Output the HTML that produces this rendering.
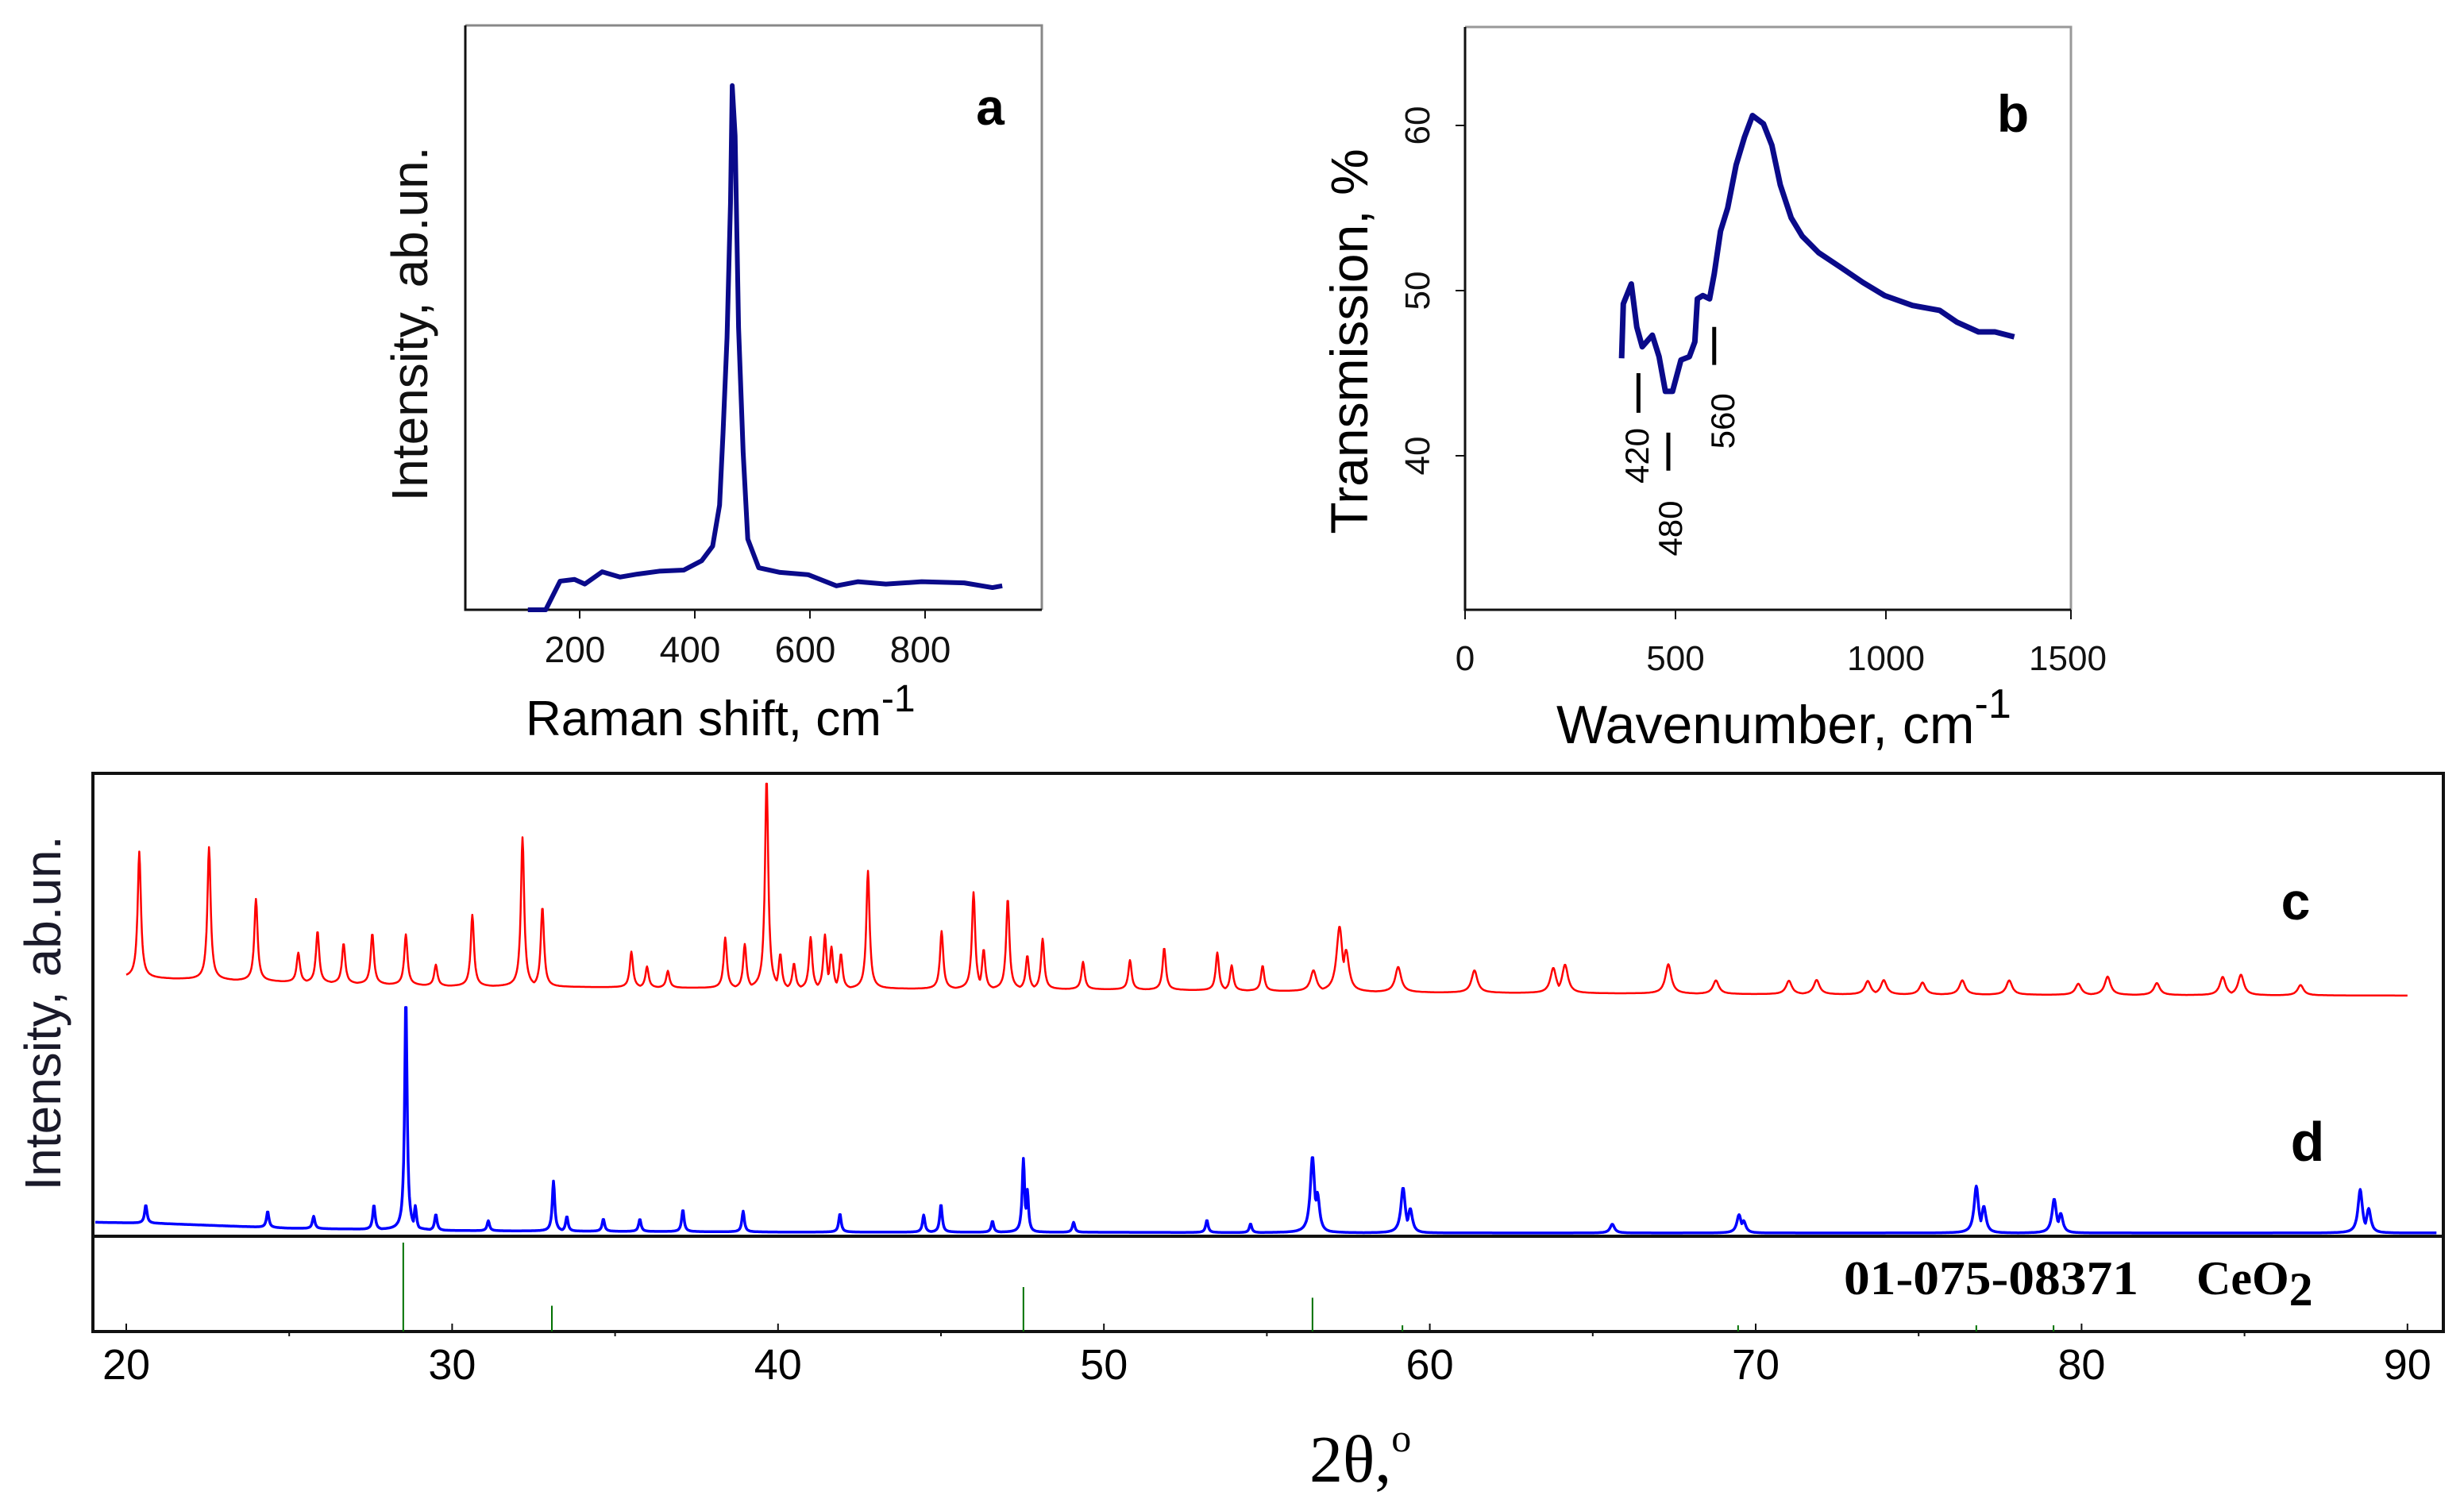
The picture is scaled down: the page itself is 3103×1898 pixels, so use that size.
<!DOCTYPE html>
<html><head><meta charset="utf-8"><style>
html,body{margin:0;padding:0;background:#fff;}
svg{display:block;font-family:"Liberation Sans",sans-serif;}
</style></head><body>
<svg id="fig" width="3103" height="1898" viewBox="0 0 3103 1898" xmlns="http://www.w3.org/2000/svg">
<g id="pa"></g>
<g id="pb"></g>
<g id="pc"></g>
</svg>
<script>
// ---- Panel a: Raman ----
const ramanX = [110,141,166,191,209,239,270,300,338,381,412,431,443,449,456,462,465,470,476,484,492,511,548,597,646,683,732,794,868,917,934];
const ramanY = [0,0,4.9,5.2,4.4,6.5,5.6,6.1,6.6,6.8,8.4,10.9,17.9,30.2,46.6,69.6,89.7,81.1,48.3,26.9,12.1,7.2,6.4,6.0,4.1,4.8,4.4,4.8,4.6,3.8,4.1];
const ramanTicks = [200,400,600,800];
// ---- Panel b: IR ----
const irX = [372,376,395,408,421,445,461,476,493,513,533,546,552,565,581,592,607,624,644,664,683,709,729,749,775,801,840,893,945,997,1063,1128,1168,1220,1259,1305];
const irY = [45.9,49.2,50.4,47.8,46.6,47.3,46.0,43.9,43.9,45.8,46.0,46.9,49.5,49.7,49.5,51.0,53.6,55.0,57.6,59.3,60.6,60.1,58.8,56.4,54.4,53.3,52.3,51.4,50.5,49.7,49.1,48.8,48.1,47.5,47.5,47.2];
const irXTicks = [0,500,1000,1500];
const irYTicks = [40,50,60];
const irMarks = [420,480,560];
const irMarkX = [412,483,592];
const irMarkTop = [45.0,41.4,47.8];
const irMarkBottom = [42.6,39.1,45.5];
const irLabelV = [40.0,35.6,42.1];
const irLabelX = [408,487,611];
// ---- Panel c/d: XRD ----
const xrdTicks = [20,30,40,50,60,70,80,90];
const cBaseX = [20,30,40,50,60,70,90];
const cBaseY = [10.9,6.8,5.7,5.3,3.8,3.0,2.3];
const cPeakPos = [20.40,22.54,23.98,25.28,25.87,26.67,27.55,28.58,29.5,30.62,32.16,32.77,35.50,35.98,36.62,38.38,38.98,39.65,40.07,40.49,41.0,41.44,41.64,41.93,42.76,45.02,46.0,46.31,47.05,47.65,48.12,49.36,50.80,51.85,53.48,53.92,54.87,56.43,57.23,57.43,59.03,61.37,63.79,64.15,67.32,68.78,71.02,71.87,73.44,73.93,75.12,76.34,77.78,79.90,80.80,82.31,84.33,84.89,86.72];
const cPeakH = [60,63,39,14,24.5,19,24,24,10,34,71,38,17,10,8,24,21,100,16.6,12,24.5,25.7,20,16.6,56,27.5,46,19,43,16,24,13,14,20,18,12,12,10,31,20,12,10.6,12,13.6,14,6.4,6.4,6.8,6.4,6.8,5.7,6.8,6.8,5.3,8.7,5.7,8.7,9.8,4.9];
const dBaseX = [19.05,21,25,30,40,50,60,91];
const dBaseY = [6.2,5.7,3.7,2.7,2.1,2.0,1.7,1.7];
const dPeakPos = [20.6,24.34,25.75,27.6,28.58,28.87,29.50,31.11,33.11,33.52,34.64,35.76,37.08,38.93,41.9,44.47,45.0,46.58,47.53,47.65,49.07,53.16,54.5,56.40,56.55,59.18,59.4,65.6,69.49,69.63,76.77,77.0,79.16,79.36,88.55,88.81];
const dPeakH = [7.7,6.8,5.2,10.3,98,10.3,6.8,4.2,21,6.2,5.2,5.2,9.2,8.7,7.7,7.2,11.7,4.7,31,18,4.2,5.2,3.7,32,17,19,10.3,3.7,7.7,5.2,19.7,11.3,14.3,8.3,18.3,10.3];
const refPos = [28.50,33.06,47.53,56.40,59.16,69.46,76.77,79.14];
const refH = [100,29,50,38,7,7,7,7];

const NS="http://www.w3.org/2000/svg";
function mk(parent,tag,attrs,text){const e=document.createElementNS(NS,tag);for(const k in attrs)e.setAttribute(k,attrs[k]);if(text!==undefined)e.textContent=text;parent.appendChild(e);return e;}

// Panel a
const pa=document.getElementById('pa');
const ax=v=>585+v*0.725, ay=v=>768-v*7.36;
let e;
e=mk(pa,'path',{d:'M586 32 H1312 V768',fill:'none',stroke:'#888','stroke-width':3});


e=mk(pa,'path',{d:'M586 32 V768 H1312',fill:'none',stroke:'#111','stroke-width':3});


ramanTicks.forEach(t=>{
  e=mk(pa,'line',{x1:ax(t),x2:ax(t),y1:768,y2:779,stroke:'#111','stroke-width':2});
  
  
  e=mk(pa,'text',{x:ax(t)-6,y:834,'font-size':46,'text-anchor':'middle',fill:'#111'},String(t));
  
  
});
e=mk(pa,'polyline',{points:ramanX.map((x,i)=>ax(x)+','+ay(ramanY[i])).join(' '),fill:'none',stroke:'#0a0a8a','stroke-width':6,'stroke-linejoin':'round'});


e=mk(pa,'text',{x:1247,y:157,'font-size':64,'font-weight':'bold','text-anchor':'middle',fill:'#000'},'a');


e=mk(pa,'text',{x:0,y:0,'font-size':64,'text-anchor':'middle',fill:'#111',transform:'translate(538,408) rotate(-90)'},'Intensity, ab.un.');


e=mk(pa,'text',{x:662,y:926,'font-size':62,fill:'#000'});


e.innerHTML='Raman shift, cm<tspan dy="-30" font-size="48">-1</tspan>';

// Panel b
const pb=document.getElementById('pb');
const bx=v=>1845+v*0.53, by=v=>366-(v-50)*20.8;
e=mk(pb,'path',{d:'M1845 34 H2608 V768',fill:'none',stroke:'#999','stroke-width':3});


e=mk(pb,'path',{d:'M1845 34 V768 H2608',fill:'none',stroke:'#111','stroke-width':3});


irXTicks.forEach(t=>{
  const xx=Math.min(bx(t),2608);
  e=mk(pb,'line',{x1:xx,x2:xx,y1:768,y2:780,stroke:'#111','stroke-width':2});
  
  
  e=mk(pb,'text',{x:t===0?bx(t):Math.min(bx(t),2604),y:844,'font-size':44,'text-anchor':'middle',fill:'#111'},String(t));
  
  
});
irYTicks.forEach(t=>{
  e=mk(pb,'line',{x1:1833,x2:1845,y1:by(t),y2:by(t),stroke:'#111','stroke-width':2});
  
  
  e=mk(pb,'text',{x:0,y:0,'font-size':44,'text-anchor':'middle',fill:'#111',transform:'translate('+1800+','+by(t)+') rotate(-90)'},String(t));
  
  
});
e=mk(pb,'polyline',{points:irX.map((x,i)=>bx(x)+','+by(irY[i])).join(' '),fill:'none',stroke:'#0a0a8a','stroke-width':7,'stroke-linejoin':'round'});


irMarks.forEach((m,i)=>{
  e=mk(pb,'line',{x1:bx(irMarkX[i]),x2:bx(irMarkX[i]),y1:by(irMarkTop[i]),y2:by(irMarkBottom[i]),stroke:'#000','stroke-width':5});
  
  
  e=mk(pb,'text',{x:0,y:0,'font-size':42,'text-anchor':'middle',fill:'#000',transform:'translate('+(bx(irLabelX[i])+15)+','+by(irLabelV[i])+') rotate(-90)'},String(m));
  
  
});
e=mk(pb,'text',{x:2535,y:166,'font-size':66,'font-weight':'bold','text-anchor':'middle',fill:'#000'},'b');


e=mk(pb,'text',{x:0,y:0,'font-size':66,'text-anchor':'middle',fill:'#000',transform:'translate(1722,430) rotate(-90)'},'Transmission, %');


e=mk(pb,'text',{x:1960,y:936,'font-size':68,fill:'#000'});


e.innerHTML='Wavenumber, cm<tspan dy="-32" font-size="52">-1</tspan>';

// Panel c/d
const pc=document.getElementById('pc');
const cx=v=>159+(v-20)*41.04;
const cy=v=>1260-v*2.65;
const dy=v=>1558-v*3.0;
const L=117,R=3077,T=974,M=1557,B=1677;
e=mk(pc,'rect',{x:L,y:T,width:R-L,height:B-T,fill:'none',stroke:'#111','stroke-width':4});


e=mk(pc,'line',{x1:L,x2:R,y1:M,y2:M,stroke:'#111','stroke-width':4});


xrdTicks.forEach(t=>{
  e=mk(pc,'line',{x1:cx(t),x2:cx(t),y1:B-10,y2:B,stroke:'#111','stroke-width':2});
  
  
  e=mk(pc,'line',{x1:cx(t+5),x2:cx(t+5),y1:B,y2:B+6,stroke:'#111','stroke-width':2});
  
  
  e=mk(pc,'text',{x:cx(t),y:1737,'font-size':54,'text-anchor':'middle',fill:'#000'},String(t));
  
  
});
function interp(xs,ys,x){if(x<=xs[0])return ys[0];for(let i=1;i<xs.length;i++){if(x<=xs[i]){const f=(x-xs[i-1])/(xs[i]-xs[i-1]);return ys[i-1]+f*(ys[i]-ys[i-1]);}}return ys[ys.length-1];}
function trace(bX,bY,pp,ph,hw,x0,x1){const pts=[];for(let x=x0;x<=x1+1e-9;x+=0.02){let add=0;pp.forEach((p,i)=>{const w=hw*(p>55?1.8:1);const d=Math.abs(x-p)/w;const v=ph[i]/(1+d*d*4);if(v>add)add=v;});pts.push([x,interp(bX,bY,x)+add]);}return pts;}
const cPts=trace(cBaseX,cBaseY,cPeakPos,cPeakH,0.12,20,90);
e=mk(pc,'polyline',{points:cPts.map(p=>cx(p[0]).toFixed(1)+','+cy(p[1]).toFixed(1)).join(' '),fill:'none',stroke:'#ff0000','stroke-width':2.5,'stroke-linejoin':'round'});


const dPts=trace(dBaseX,dBaseY,dPeakPos,dPeakH,0.09,19.05,90.9);
e=mk(pc,'polyline',{points:dPts.map(p=>cx(p[0]).toFixed(1)+','+dy(p[1]).toFixed(1)).join(' '),fill:'none',stroke:'#0000ff','stroke-width':3.5,'stroke-linejoin':'round'});


refPos.forEach((p,i)=>{
  e=mk(pc,'line',{x1:cx(p),x2:cx(p),y1:B,y2:B-refH[i]*1.12,stroke:'#007000','stroke-width':2});
  
  
});
e=mk(pc,'text',{x:2891,y:1158,'font-size':66,'font-weight':'bold','text-anchor':'middle',fill:'#000'},'c');


e=mk(pc,'text',{x:2906,y:1462,'font-size':70,'font-weight':'bold','text-anchor':'middle',fill:'#000'},'d');


e=mk(pc,'text',{x:2322,y:1630,'font-size':60,'font-weight':'bold','font-family':'"Liberation Serif",serif',fill:'#000',textLength:371,lengthAdjust:'spacingAndGlyphs'},'01-075-08371');


e=mk(pc,'text',{x:2766,y:1630,'font-size':60,'font-weight':'bold','font-family':'"Liberation Serif",serif',fill:'#000'});


e.innerHTML='CeO<tspan dy="14">2</tspan>';
e=mk(pc,'text',{x:0,y:0,'font-size':64,'text-anchor':'middle',fill:'#1a1a2a',transform:'translate(76,1276) rotate(-90)'},'Intensity, ab.un.');


e=mk(pc,'text',{x:1649,y:1866,'font-size':84,'font-family':'"Liberation Serif",serif',fill:'#000'});


e.innerHTML='2θ,<tspan dy="-38" font-size="50">o</tspan>';
</script>
</body></html>
